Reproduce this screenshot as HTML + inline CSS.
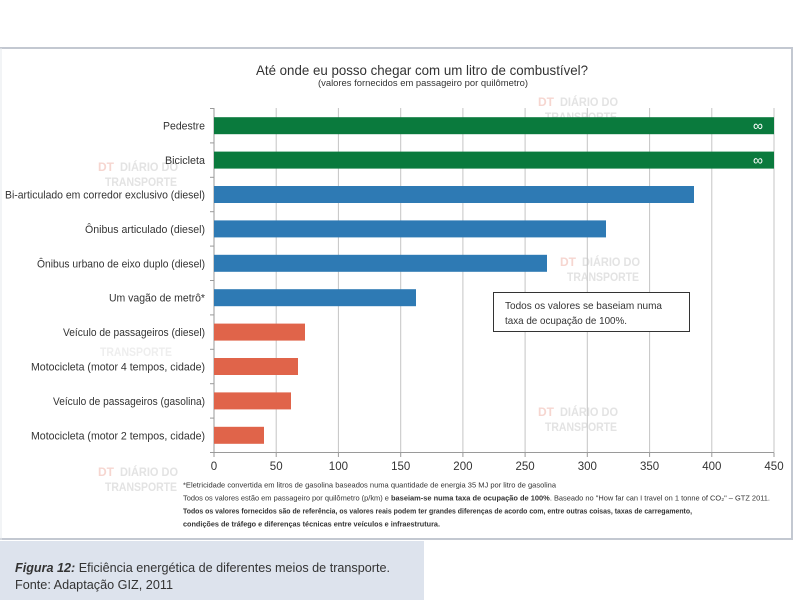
<!DOCTYPE html>
<html>
<head>
<meta charset="utf-8">
<style>
html,body{margin:0;padding:0;background:#fff;}
svg{display:block;}
text{font-family:"Liberation Sans",sans-serif;fill:#333;}
.wm{fill:#e3e3e3;font-weight:bold;}
.wmr{fill:#f6d6d0;font-weight:bold;}
</style>
</head>
<body>
<svg width="800" height="600" viewBox="0 0 800 600" xmlns="http://www.w3.org/2000/svg">
  <rect x="0" y="0" width="800" height="600" fill="#fff"/>
  <!-- frame -->
  <line x1="0" y1="48" x2="793" y2="48" stroke="#c3c8d1" stroke-width="2"/>
  <line x1="792" y1="48" x2="792" y2="540" stroke="#c3c8d1" stroke-width="2"/>
  <line x1="0" y1="539" x2="793" y2="539" stroke="#c3c8d1" stroke-width="2"/>
  <line x1="1" y1="48" x2="1" y2="540" stroke="#e6e8ec" stroke-width="1"/>

  <!-- watermarks -->
  <g font-size="12">
    <text class="wmr" x="538" y="106">DT</text><text class="wm" x="560" y="106" textLength="58" lengthAdjust="spacingAndGlyphs">DIÁRIO DO</text>
    <text class="wm" x="545" y="121" textLength="72" lengthAdjust="spacingAndGlyphs">TRANSPORTE</text>
    <text class="wmr" x="98" y="171">DT</text><text class="wm" x="120" y="171" textLength="58" lengthAdjust="spacingAndGlyphs">DIÁRIO DO</text>
    <text class="wm" x="105" y="186" textLength="72" lengthAdjust="spacingAndGlyphs">TRANSPORTE</text>
    <text class="wmr" x="538" y="416">DT</text><text class="wm" x="560" y="416" textLength="58" lengthAdjust="spacingAndGlyphs">DIÁRIO DO</text>
    <text class="wm" x="545" y="431" textLength="72" lengthAdjust="spacingAndGlyphs">TRANSPORTE</text>
    <text class="wmr" x="98" y="476">DT</text><text class="wm" x="120" y="476" textLength="58" lengthAdjust="spacingAndGlyphs">DIÁRIO DO</text>
    <text class="wm" x="105" y="491" textLength="72" lengthAdjust="spacingAndGlyphs">TRANSPORTE</text>
    <text class="wmr" x="560" y="266">DT</text><text class="wm" x="582" y="266" textLength="58" lengthAdjust="spacingAndGlyphs">DIÁRIO DO</text>
    <text class="wm" x="567" y="281" textLength="72" lengthAdjust="spacingAndGlyphs">TRANSPORTE</text>
    <text class="wm" x="100" y="356" textLength="72" lengthAdjust="spacingAndGlyphs" style="opacity:0.6">TRANSPORTE</text>
  </g>

  <!-- title -->
  <text x="422" y="75" font-size="14" text-anchor="middle" textLength="332" lengthAdjust="spacingAndGlyphs">Até onde eu posso chegar com um litro de combustível?</text>
  <text x="423" y="86" font-size="9" text-anchor="middle" textLength="210" lengthAdjust="spacingAndGlyphs">(valores fornecidos em passageiro por quilômetro)</text>

  <!-- gridlines -->
  <g stroke="#c4c4c4" stroke-width="1">
    <line x1="276.2" y1="108" x2="276.2" y2="453"/>
    <line x1="338.4" y1="108" x2="338.4" y2="453"/>
    <line x1="400.7" y1="108" x2="400.7" y2="453"/>
    <line x1="462.9" y1="108" x2="462.9" y2="453"/>
    <line x1="525.1" y1="108" x2="525.1" y2="453"/>
    <line x1="587.3" y1="108" x2="587.3" y2="453"/>
    <line x1="649.6" y1="108" x2="649.6" y2="453"/>
    <line x1="711.8" y1="108" x2="711.8" y2="453"/>
    <line x1="774" y1="108" x2="774" y2="453"/>
  </g>
  <!-- axes -->
  <g stroke="#9a9a9a" stroke-width="1">
    <line x1="214" y1="108" x2="214" y2="453"/>
    <line x1="214" y1="452.5" x2="774" y2="452.5"/>
    <line x1="214" y1="453" x2="214" y2="457"/>
    <line x1="276.2" y1="453" x2="276.2" y2="457"/>
    <line x1="338.4" y1="453" x2="338.4" y2="457"/>
    <line x1="400.7" y1="453" x2="400.7" y2="457"/>
    <line x1="462.9" y1="453" x2="462.9" y2="457"/>
    <line x1="525.1" y1="453" x2="525.1" y2="457"/>
    <line x1="587.3" y1="453" x2="587.3" y2="457"/>
    <line x1="649.6" y1="453" x2="649.6" y2="457"/>
    <line x1="711.8" y1="453" x2="711.8" y2="457"/>
    <line x1="774" y1="453" x2="774" y2="457"/>
    <line x1="210" y1="108.5" x2="214" y2="108.5"/>
    <line x1="210" y1="142.9" x2="214" y2="142.9"/>
    <line x1="210" y1="177.3" x2="214" y2="177.3"/>
    <line x1="210" y1="211.7" x2="214" y2="211.7"/>
    <line x1="210" y1="246.1" x2="214" y2="246.1"/>
    <line x1="210" y1="280.5" x2="214" y2="280.5"/>
    <line x1="210" y1="314.9" x2="214" y2="314.9"/>
    <line x1="210" y1="349.3" x2="214" y2="349.3"/>
    <line x1="210" y1="383.7" x2="214" y2="383.7"/>
    <line x1="210" y1="418.1" x2="214" y2="418.1"/>
    <line x1="210" y1="452.5" x2="214" y2="452.5"/>
  </g>

  <!-- bars -->
  <rect x="214" y="117.2" width="560" height="17" fill="#0a7a3d"/>
  <rect x="214" y="151.6" width="560" height="17" fill="#0a7a3d"/>
  <rect x="214" y="186.0" width="480" height="17" fill="#2e7ab4"/>
  <rect x="214" y="220.4" width="392" height="17" fill="#2e7ab4"/>
  <rect x="214" y="254.8" width="333" height="17" fill="#2e7ab4"/>
  <rect x="214" y="289.2" width="202" height="17" fill="#2e7ab4"/>
  <rect x="214" y="323.6" width="91" height="17" fill="#e0644a"/>
  <rect x="214" y="358.0" width="84" height="17" fill="#e0644a"/>
  <rect x="214" y="392.4" width="77" height="17" fill="#e0644a"/>
  <rect x="214" y="426.8" width="50" height="17" fill="#e0644a"/>

  <text x="758" y="130.5" font-size="14" text-anchor="middle" style="fill:#fff">∞</text>
  <text x="758" y="164.9" font-size="14" text-anchor="middle" style="fill:#fff">∞</text>

  <!-- category labels -->
  <g font-size="11" text-anchor="end">
    <text x="205" y="129.7" textLength="42" lengthAdjust="spacingAndGlyphs">Pedestre</text>
    <text x="205" y="164.1" textLength="40" lengthAdjust="spacingAndGlyphs">Bicicleta</text>
    <text x="205" y="198.5" textLength="200" lengthAdjust="spacingAndGlyphs">Bi-articulado em corredor exclusivo (diesel)</text>
    <text x="205" y="232.9" textLength="120" lengthAdjust="spacingAndGlyphs">Ônibus articulado (diesel)</text>
    <text x="205" y="267.3" textLength="168" lengthAdjust="spacingAndGlyphs">Ônibus urbano de eixo duplo (diesel)</text>
    <text x="205" y="301.7" textLength="96" lengthAdjust="spacingAndGlyphs">Um vagão de metrô*</text>
    <text x="205" y="336.1" textLength="142" lengthAdjust="spacingAndGlyphs">Veículo de passageiros (diesel)</text>
    <text x="205" y="370.5" textLength="174" lengthAdjust="spacingAndGlyphs">Motocicleta (motor 4 tempos, cidade)</text>
    <text x="205" y="404.9" textLength="152" lengthAdjust="spacingAndGlyphs">Veículo de passageiros (gasolina)</text>
    <text x="205" y="439.3" textLength="174" lengthAdjust="spacingAndGlyphs">Motocicleta (motor 2 tempos, cidade)</text>
  </g>

  <!-- x tick labels -->
  <g font-size="11.5" text-anchor="middle" style="fill:#2a2a2a">
    <text x="214" y="470">0</text>
    <text x="276.2" y="470">50</text>
    <text x="338.4" y="470">100</text>
    <text x="400.7" y="470">150</text>
    <text x="462.9" y="470">200</text>
    <text x="525.1" y="470">250</text>
    <text x="587.3" y="470">300</text>
    <text x="649.6" y="470">350</text>
    <text x="711.8" y="470">400</text>
    <text x="774" y="470">450</text>
  </g>

  <!-- annotation box -->
  <rect x="493.5" y="292.5" width="196" height="39" fill="#fff" stroke="#333" stroke-width="1"/>
  <text x="505" y="309" font-size="10.5" textLength="157" lengthAdjust="spacingAndGlyphs">Todos os valores se baseiam numa</text>
  <text x="505" y="324" font-size="10.5" textLength="122" lengthAdjust="spacingAndGlyphs">taxa de ocupação de 100%.</text>

  <!-- footnotes -->
  <g font-size="7.3" style="fill:#222">
    <text x="183" y="487.5" textLength="373" lengthAdjust="spacingAndGlyphs">*Eletricidade convertida em litros de gasolina baseados numa quantidade de energia 35 MJ por litro de gasolina</text>
    <text x="183" y="500.5" textLength="587" lengthAdjust="spacingAndGlyphs">Todos os valores estão em passageiro por quilômetro (p/km) e <tspan font-weight="bold">baseiam-se numa taxa de ocupação de 100%</tspan>. Baseado no "How far can I travel on 1 tonne of CO₂" – GTZ 2011.</text>
    <text x="183" y="513.5" font-weight="bold" textLength="509" lengthAdjust="spacingAndGlyphs">Todos os valores fornecidos são de referência, os valores reais podem ter grandes diferenças de acordo com, entre outras coisas, taxas de carregamento,</text>
    <text x="183" y="526.5" font-weight="bold" textLength="257" lengthAdjust="spacingAndGlyphs">condições de tráfego e diferenças técnicas entre veículos e infraestrutura.</text>
  </g>

  <!-- caption box -->
  <rect x="0" y="541" width="424" height="59" fill="#dde3ed"/>
  <text x="15" y="572" font-size="13" textLength="375" lengthAdjust="spacingAndGlyphs"><tspan font-weight="bold" font-style="italic">Figura 12:</tspan> Eficiência energética de diferentes meios de transporte.</text>
  <text x="15" y="589" font-size="13" textLength="158" lengthAdjust="spacingAndGlyphs">Fonte: Adaptação GIZ, 2011</text>
</svg>
</body>
</html>
